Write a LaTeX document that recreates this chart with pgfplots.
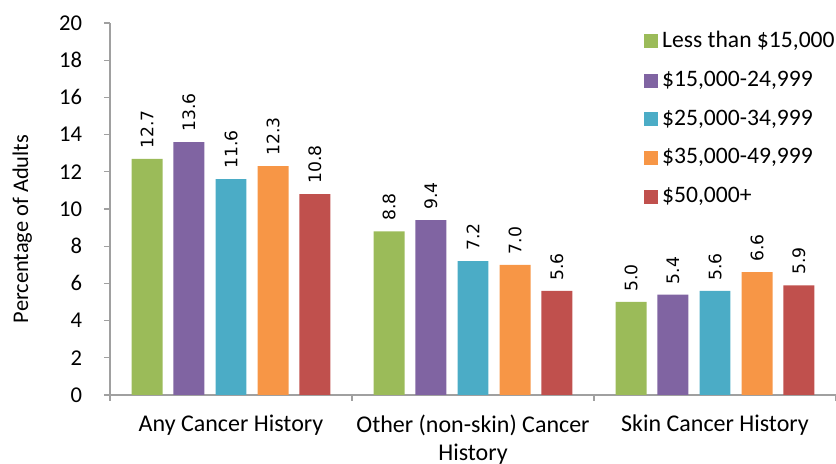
\documentclass[border=0pt]{standalone}
\usepackage{fontspec}
\setmainfont{Carlito}
\newfontfamily\valfont{DejaVu Sans}
\usepackage{pgfplots}
\pgfplotsset{compat=1.18}
\usetikzlibrary{calc}

\definecolor{cgreen}{HTML}{9BBB59}
\definecolor{cpurple}{HTML}{8064A2}
\definecolor{ccyan}{HTML}{4BACC6}
\definecolor{corange}{HTML}{F79646}
\definecolor{cred}{HTML}{C0504D}
\definecolor{axgray}{HTML}{A0A0A0}

\begin{document}
\fontsize{11.3}{13.5}\selectfont
\begin{tikzpicture}
\begin{axis}[
    name=ax,
    scale only axis,
    width=363pt, height=186pt,
    ybar,
    bar width=0.128,
    xmin=-0.5, xmax=2.5,
    ymin=0, ymax=20,
    ytick={0,2,...,20},
    xtick={-0.5,0.5,1.5,2.5},
    xticklabels={},
    extra x ticks={0,1,2},
    extra x tick labels={Any Cancer History, {Other (non-skin) Cancer\\History}, Skin Cancer History},
    extra x tick style={major tick length=0pt},
    xticklabel style={align=center, text=black, yshift=-6pt, font=\fontsize{12}{14}\selectfont},
    yticklabel style={xshift=-7pt, font=\fontsize{11.3}{13.5}\selectfont},
    axis lines*=left,
    axis line style={axgray, line width=0.6pt},
    tick style={axgray, line width=0.6pt},
    tick align=outside,
    major tick length=3pt,
    every axis y label/.style={at={(axis description cs:-0.121,0.446)}, rotate=90, anchor=center, font=\fontsize{11.2}{13}\selectfont},
    ylabel={Percentage of Adults},
    /pgf/number format/assume math mode=true,
    nodes near coords={\valfont\fontsize{8.6}{10}\selectfont\pgfmathprintnumber{\pgfplotspointmeta}},
    nodes near coords style={/pgf/number format/fixed, /pgf/number format/fixed zerofill, /pgf/number format/precision=1},
    every node near coord/.append style={rotate=90, anchor=west, inner xsep=5pt, text=black},
    legend style={draw=none, fill=none, at={(axis description cs:0.727,1.0)}, anchor=north west, row sep=6pt, font=\fontsize{11.8}{14}\selectfont},
    legend cell align=left,
    legend image code/.code={\fill[#1] (0pt,-3.5pt) rectangle (7pt,3.5pt);},
]
\addplot[fill=cgreen, draw=none, bar shift=-0.347] coordinates {(0,12.7) (1,8.8) (2,5.0)};
\addlegendentry{Less than \$15,000}
\addplot[fill=cpurple, draw=none, bar shift=-0.174] coordinates {(0,13.6) (1,9.4) (2,5.4)};
\addlegendentry{\$15,000-24,999}
\addplot[fill=ccyan, draw=none, bar shift=0] coordinates {(0,11.6) (1,7.2) (2,5.6)};
\addlegendentry{\$25,000-34,999}
\addplot[fill=corange, draw=none, bar shift=0.174] coordinates {(0,12.3) (1,7.0) (2,6.6)};
\addlegendentry{\$35,000-49,999}
\addplot[fill=cred, draw=none, bar shift=0.347] coordinates {(0,10.8) (1,5.6) (2,5.9)};
\addlegendentry{\$50,000+}
\end{axis}
\pgfresetboundingbox
\path[use as bounding box] ($(ax.south west)+(-55pt,-34.5pt)$) rectangle ($(ax.north east)+(0pt,11.5pt)$);
\end{tikzpicture}
\end{document}
